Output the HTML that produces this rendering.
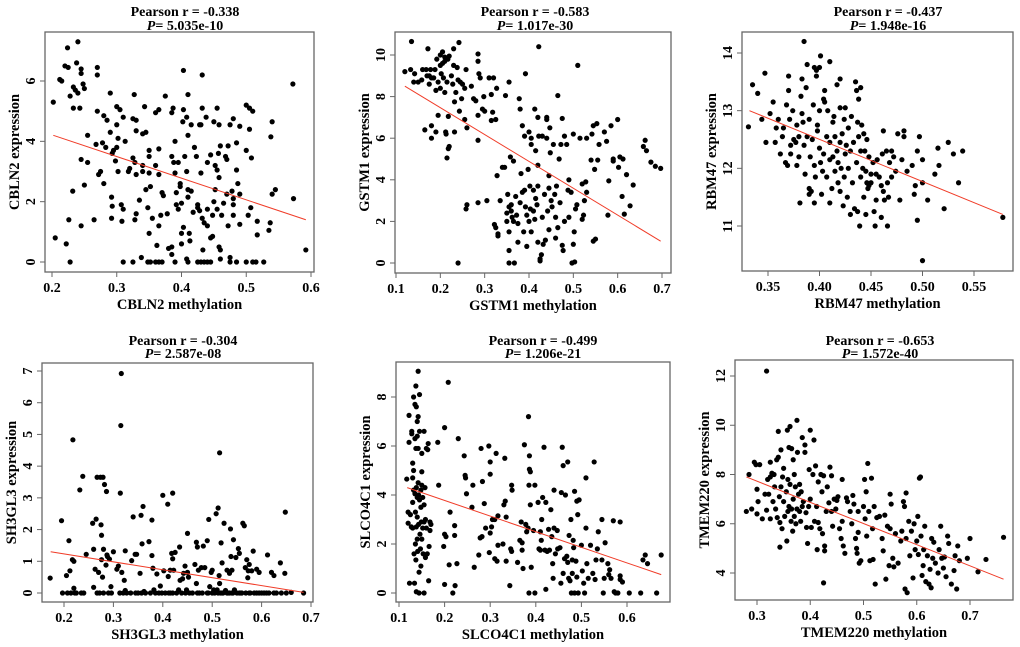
<!DOCTYPE html>
<html><head><meta charset="utf-8">
<style>
html,body{margin:0;padding:0;background:#fff;}
svg{display:block;font-family:"Liberation Serif",serif;font-weight:bold;}
</style></head>
<body>
<svg id="fig" width="1020" height="647" viewBox="0 0 1020 647" xmlns="http://www.w3.org/2000/svg"></svg>
<script>
// ---------- data ----------
const genes = ["CBLN2","GSTM1","RBM47","SH3GL3","SLCO4C1","TMEM220"];
const pearsonR = ["-0.338","-0.583","-0.437","-0.304","-0.499","-0.653"];
const pValues = ["5.035e-10","1.017e-30","1.948e-16","2.587e-08","1.206e-21","1.572e-40"];
const xTicks1 = [0.2,0.3,0.4,0.5,0.6];
const yTicks1 = [0,2,4,6];
const xTicks2 = [0.1,0.2,0.3,0.4,0.5,0.6,0.7];
const yTicks2 = [0,2,4,6,8,10];
const xTicks3 = [0.35,0.40,0.45,0.50,0.55];
const yTicks3 = [11,12,13,14];
const xTicks4 = [0.2,0.3,0.4,0.5,0.6,0.7];
const yTicks4 = [0,1,2,3,4,5,6,7];
const xTicks5 = [0.1,0.2,0.3,0.4,0.5,0.6];
const yTicks5 = [0,2,4,6,8];
const xTicks6 = [0.3,0.4,0.5,0.6,0.7];
const yTicks6 = [4,6,8,10,12];
const fit1 = [[0.202,4.2],[0.592,1.4]];
const fit2 = [[0.12,8.5],[0.697,1.05]];
const fit3 = [[0.332,13.0],[0.578,11.2]];
const fit4 = [[0.173,1.3],[0.685,0.02]];
const fit5 = [[0.118,4.3],[0.675,0.75]];
const fit6 = [[0.28,7.9],[0.763,3.75]];
const pts1 = [[0.202,5.3],[0.212,6.05],[0.215,6.0],[0.22,6.5],[0.225,6.45],[0.224,7.1],[0.24,7.3],[0.238,6.6],[0.245,6.4],[0.245,6.25],[0.233,5.8],[0.236,5.7],[0.24,5.6],[0.243,5.1],[0.233,5.1],[0.228,5.5],[0.248,5.9],[0.25,5.75],[0.27,6.45],[0.27,6.2],[0.255,4.2],[0.245,3.4],[0.255,3.3],[0.25,2.55],[0.232,2.35],[0.226,1.4],[0.245,1.2],[0.205,0.8],[0.222,0.6],[0.228,0],[0.265,1.4],[0.272,2.9],[0.275,3.0],[0.268,3.9],[0.27,5.0],[0.28,4.85],[0.29,5.6],[0.285,4.7],[0.28,2.6],[0.278,3.95],[0.283,3.8],[0.29,4.3],[0.295,3.7],[0.293,3.6],[0.298,3.35],[0.3,4.55],[0.3,5.15],[0.305,5.05],[0.302,4.1],[0.3,3.8],[0.302,3.0],[0.292,2.15],[0.293,1.85],[0.292,1.45],[0.307,1.9],[0.31,1.75],[0.308,1.35],[0.31,4.8],[0.313,4.0],[0.318,3.0],[0.32,3.1],[0.325,3.45],[0.327,5.55],[0.325,4.75],[0.33,4.7],[0.33,4.35],[0.328,3.3],[0.33,2.9],[0.33,1.6],[0.328,1.4],[0.31,0],[0.325,0],[0.338,0.15],[0.335,2.05],[0.34,3.2],[0.34,3.0],[0.345,2.4],[0.345,4.3],[0.34,4.25],[0.343,5.15],[0.35,3.7],[0.35,3.5],[0.35,2.95],[0.352,2.5],[0.348,1.8],[0.355,1.45],[0.35,0.95],[0.348,0],[0.352,0],[0.36,0],[0.365,0],[0.37,0],[0.36,4.95],[0.365,5.05],[0.365,3.75],[0.36,3.2],[0.365,2.9],[0.37,2.3],[0.368,1.55],[0.365,1.2],[0.362,0.55],[0.375,5.5],[0.372,2.2],[0.378,1.6],[0.38,0.45],[0.385,0.5],[0.385,0.25],[0.385,3.5],[0.388,3.3],[0.39,4.0],[0.387,5.1],[0.385,4.95],[0.39,2.95],[0.392,2.3],[0.392,1.9],[0.395,1.75],[0.395,3.3],[0.398,2.6],[0.398,2.5],[0.4,0.95],[0.4,0.6],[0.403,1.15],[0.4,1.95],[0.405,3.5],[0.402,4.65],[0.403,5.05],[0.403,6.35],[0.41,5.55],[0.408,4.8],[0.41,4.2],[0.408,3.0],[0.41,2.4],[0.41,2.15],[0.412,0.95],[0.413,0.7],[0.408,0.1],[0.41,0],[0.39,0],[0.415,4.55],[0.415,2.35],[0.418,1.65],[0.42,3.8],[0.423,3.5],[0.425,1.9],[0.425,1.8],[0.428,1.7],[0.428,4.55],[0.43,4.55],[0.432,5.1],[0.432,6.2],[0.43,2.95],[0.432,1.45],[0.435,1.3],[0.433,0.4],[0.425,0],[0.43,0],[0.435,0],[0.44,0],[0.445,0],[0.438,4.8],[0.44,3.3],[0.44,1.75],[0.44,1.2],[0.445,3.55],[0.445,0.8],[0.448,0.85],[0.448,1.55],[0.45,2.0],[0.452,2.4],[0.45,4.65],[0.452,3.2],[0.455,3.05],[0.455,1.75],[0.455,5.1],[0.458,4.55],[0.457,3.6],[0.458,2.8],[0.458,0.5],[0.46,0.4],[0.46,0.1],[0.46,3.85],[0.462,1.55],[0.465,1.95],[0.468,3.5],[0.47,3.4],[0.47,2.25],[0.472,3.85],[0.472,1.2],[0.475,0.15],[0.475,0],[0.475,4.55],[0.48,4.75],[0.478,2.35],[0.48,2.1],[0.48,1.9],[0.48,1.55],[0.485,3.95],[0.485,3.05],[0.487,2.6],[0.485,0],[0.49,4.5],[0.49,2.25],[0.49,1.25],[0.5,5.2],[0.5,3.7],[0.5,0],[0.503,1.55],[0.505,5.1],[0.507,1.8],[0.508,3.45],[0.51,5.0],[0.51,0],[0.505,4.4],[0.515,0],[0.517,1.35],[0.517,0.9],[0.527,0],[0.535,1.05],[0.537,1.3],[0.538,4.15],[0.54,4.65],[0.54,2.25],[0.545,2.4],[0.572,5.9],[0.573,2.1],[0.592,0.4]];
const pts2 = [[0.12,9.2],[0.135,10.65],[0.133,9.3],[0.14,8.7],[0.142,9.1],[0.15,8.7],[0.158,8.8],[0.16,9.3],[0.165,6.4],[0.168,9.3],[0.17,9.0],[0.172,10.3],[0.175,8.6],[0.175,9.0],[0.178,9.3],[0.18,8.9],[0.18,6.6],[0.18,6.0],[0.185,8.9],[0.188,9.3],[0.19,8.3],[0.19,6.3],[0.192,9.8],[0.195,7.1],[0.195,8.7],[0.2,10.0],[0.2,9.5],[0.2,8.4],[0.202,9.1],[0.205,10.15],[0.205,9.6],[0.207,8.9],[0.21,9.9],[0.21,9.7],[0.21,8.2],[0.212,6.3],[0.213,6.2],[0.215,8.7],[0.217,9.8],[0.218,7.05],[0.215,5.05],[0.218,5.5],[0.22,5.6],[0.22,9.95],[0.225,9.0],[0.228,8.6],[0.23,10.3],[0.23,9.5],[0.232,7.75],[0.232,6.3],[0.235,8.2],[0.238,9.4],[0.24,8.8],[0.242,10.6],[0.243,7.3],[0.245,8.7],[0.248,7.9],[0.25,8.6],[0.255,8.4],[0.255,6.9],[0.258,9.3],[0.26,6.5],[0.258,2.6],[0.26,2.8],[0.24,0],[0.27,8.5],[0.275,7.9],[0.28,7.8],[0.285,10.05],[0.285,9.7],[0.287,9.1],[0.285,7.1],[0.285,5.9],[0.285,2.9],[0.29,8.9],[0.295,7.4],[0.298,8.0],[0.3,7.3],[0.305,3.0],[0.31,8.9],[0.315,8.1],[0.315,6.85],[0.318,7.25],[0.32,8.9],[0.322,1.85],[0.325,1.7],[0.325,6.9],[0.327,8.4],[0.328,4.2],[0.33,1.4],[0.33,1.3],[0.335,3.0],[0.34,4.6],[0.345,4.6],[0.347,8.05],[0.35,2.4],[0.35,2.0],[0.352,3.3],[0.355,2.7],[0.355,1.5],[0.355,0.6],[0.355,0],[0.355,8.7],[0.358,5.1],[0.36,2.5],[0.36,2.8],[0.362,2.2],[0.365,4.9],[0.365,2.0],[0.367,0],[0.37,3.2],[0.372,2.3],[0.375,1.9],[0.375,1.0],[0.378,7.9],[0.38,2.9],[0.38,7.4],[0.382,4.3],[0.385,6.6],[0.385,3.4],[0.388,1.5],[0.39,6.1],[0.39,3.5],[0.392,9.1],[0.392,2.7],[0.395,2.3],[0.395,0.8],[0.398,4.5],[0.4,6.3],[0.4,2.0],[0.402,3.7],[0.403,2.6],[0.405,6.0],[0.405,5.7],[0.405,1.5],[0.41,2.5],[0.41,3.5],[0.413,2.1],[0.413,7.4],[0.415,5.4],[0.415,3.1],[0.418,2.8],[0.42,7.0],[0.42,1.0],[0.42,4.7],[0.42,3.7],[0.422,10.4],[0.422,6.1],[0.425,0.1],[0.425,0.2],[0.428,0.4],[0.43,6.1],[0.43,2.2],[0.432,0.9],[0.435,3.3],[0.437,1.1],[0.44,7.0],[0.44,6.9],[0.44,6.0],[0.442,2.5],[0.445,4.2],[0.445,3.6],[0.445,1.6],[0.447,6.5],[0.448,5.3],[0.45,3.0],[0.452,2.7],[0.455,5.7],[0.458,3.3],[0.46,2.2],[0.46,1.2],[0.462,3.7],[0.465,8.05],[0.465,1.7],[0.468,5.0],[0.47,2.9],[0.472,5.7],[0.475,6.95],[0.477,0.6],[0.475,0.85],[0.48,6.1],[0.48,2.0],[0.485,5.7],[0.488,3.5],[0.49,4.0],[0.49,2.2],[0.495,3.4],[0.497,0],[0.5,6.2],[0.5,0.9],[0.502,1.5],[0.503,0.05],[0.505,2.6],[0.508,2.8],[0.51,9.5],[0.515,6.0],[0.52,3.8],[0.52,2.1],[0.523,2.3],[0.525,3.0],[0.528,3.9],[0.53,3.4],[0.53,6.0],[0.54,4.95],[0.542,6.2],[0.545,6.6],[0.545,1.05],[0.548,4.5],[0.55,1.15],[0.553,6.7],[0.555,4.95],[0.558,5.7],[0.57,6.3],[0.575,5.85],[0.578,2.3],[0.58,3.95],[0.585,6.6],[0.59,5.0],[0.59,4.9],[0.6,6.9],[0.602,4.6],[0.605,5.1],[0.61,3.2],[0.612,5.0],[0.615,2.35],[0.62,4.25],[0.628,2.75],[0.635,3.75],[0.658,5.6],[0.662,5.9],[0.665,5.4],[0.675,4.85],[0.685,4.65],[0.697,4.55]];
const pts3 = [[0.331,12.72],[0.335,13.45],[0.34,13.3],[0.344,12.85],[0.347,13.65],[0.348,12.45],[0.352,12.95],[0.355,13.15],[0.357,12.45],[0.358,12.7],[0.36,12.85],[0.362,12.25],[0.364,12.55],[0.365,12.7],[0.367,12.1],[0.368,13.1],[0.369,12.05],[0.37,13.35],[0.37,13.6],[0.371,12.85],[0.372,12.25],[0.372,12.4],[0.374,13.0],[0.375,12.5],[0.377,12.45],[0.378,12.05],[0.378,12.75],[0.38,12.2],[0.38,12.55],[0.381,11.4],[0.382,13.25],[0.383,13.55],[0.383,12.95],[0.384,12.8],[0.385,14.2],[0.385,12.4],[0.386,11.9],[0.387,13.4],[0.388,13.8],[0.388,12.55],[0.39,11.65],[0.39,11.55],[0.39,12.85],[0.391,12.2],[0.392,11.6],[0.393,12.5],[0.394,13.1],[0.395,13.75],[0.395,12.05],[0.395,11.4],[0.396,11.85],[0.397,13.6],[0.397,13.7],[0.398,12.75],[0.398,12.65],[0.4,13.75],[0.4,13.0],[0.4,12.35],[0.401,13.95],[0.401,12.1],[0.402,11.55],[0.403,11.95],[0.404,12.25],[0.404,13.2],[0.405,13.35],[0.405,13.15],[0.407,12.55],[0.407,11.85],[0.408,13.0],[0.41,13.85],[0.41,12.45],[0.41,11.4],[0.41,12.15],[0.412,11.65],[0.413,12.8],[0.413,12.2],[0.414,12.9],[0.415,12.55],[0.415,11.95],[0.417,13.45],[0.417,12.3],[0.418,11.75],[0.418,12.1],[0.42,13.55],[0.42,13.05],[0.42,12.45],[0.42,11.6],[0.421,12.0],[0.422,12.6],[0.423,11.35],[0.424,12.85],[0.424,11.85],[0.425,12.25],[0.425,13.05],[0.426,12.4],[0.427,11.5],[0.428,12.7],[0.428,12.0],[0.43,11.2],[0.43,12.3],[0.431,12.9],[0.432,11.75],[0.433,12.45],[0.434,11.3],[0.435,13.5],[0.436,13.35],[0.436,12.1],[0.437,12.8],[0.437,11.25],[0.438,13.2],[0.438,12.55],[0.439,11.0],[0.44,13.4],[0.44,12.3],[0.44,11.85],[0.441,12.75],[0.442,12.0],[0.443,12.6],[0.443,11.5],[0.444,12.3],[0.445,11.95],[0.445,11.2],[0.446,12.5],[0.446,11.75],[0.447,11.65],[0.448,12.2],[0.448,11.7],[0.45,11.9],[0.45,11.75],[0.452,12.1],[0.453,11.25],[0.454,11.0],[0.455,11.45],[0.455,11.9],[0.456,12.15],[0.458,11.85],[0.46,11.7],[0.46,11.15],[0.461,12.25],[0.462,12.65],[0.462,11.6],[0.463,11.45],[0.465,12.3],[0.466,11.75],[0.466,11.0],[0.467,11.5],[0.468,12.1],[0.47,12.3],[0.47,11.85],[0.472,12.2],[0.474,11.95],[0.476,12.6],[0.478,11.45],[0.48,12.15],[0.482,12.65],[0.482,12.55],[0.485,11.95],[0.49,12.05],[0.492,11.55],[0.493,11.7],[0.495,12.3],[0.495,11.1],[0.497,12.55],[0.5,12.15],[0.5,11.75],[0.5,10.4],[0.505,11.45],[0.512,11.9],[0.515,12.35],[0.516,12.05],[0.521,11.3],[0.525,12.45],[0.53,12.25],[0.535,11.75],[0.539,12.3],[0.578,11.15]];
const pts4 = [[0.172,0.47],[0.195,2.28],[0.197,0],[0.205,0.55],[0.207,0],[0.21,1.65],[0.212,0.7],[0.214,0],[0.217,1.05],[0.218,4.83],[0.22,1.0],[0.22,0.15],[0.222,0],[0.225,0],[0.232,3.25],[0.235,0],[0.238,3.68],[0.24,0],[0.245,1.22],[0.258,2.2],[0.26,1.38],[0.26,0.18],[0.263,0.75],[0.265,2.33],[0.267,3.65],[0.267,0],[0.27,0.65],[0.272,0],[0.274,3.65],[0.275,2.15],[0.276,1.82],[0.276,1.05],[0.278,0.5],[0.279,3.65],[0.28,1.38],[0.28,0],[0.282,3.42],[0.285,0.88],[0.286,3.2],[0.287,1.2],[0.288,1.15],[0.29,0],[0.292,1.07],[0.295,0.2],[0.296,0],[0.3,1.3],[0.307,0.75],[0.31,0.85],[0.313,0],[0.314,3.15],[0.315,5.28],[0.316,6.92],[0.317,0.65],[0.32,0],[0.322,0.4],[0.324,1.33],[0.324,0.08],[0.327,0],[0.335,0],[0.337,1.02],[0.34,2.4],[0.344,1.22],[0.347,1.22],[0.354,0.62],[0.356,2.45],[0.357,0],[0.358,1.55],[0.36,2.73],[0.362,0.05],[0.365,0],[0.372,1.62],[0.375,0],[0.378,2.3],[0.378,1.18],[0.38,0.78],[0.382,0.1],[0.385,0],[0.388,0.6],[0.395,0.22],[0.398,0],[0.4,3.08],[0.402,0.7],[0.41,2.8],[0.411,0.52],[0.412,0],[0.415,0.72],[0.418,1.25],[0.42,3.15],[0.42,1.08],[0.422,0.72],[0.425,1.28],[0.428,0],[0.432,0.1],[0.434,1.45],[0.435,0.4],[0.438,0],[0.44,0.45],[0.442,0.62],[0.445,0.85],[0.446,0],[0.448,0.1],[0.45,1.88],[0.45,0.65],[0.452,0.5],[0.454,0],[0.46,0],[0.465,0.9],[0.468,1.6],[0.468,0.3],[0.47,1.45],[0.472,0.72],[0.474,0],[0.478,0.8],[0.48,0],[0.482,1.48],[0.485,0.8],[0.49,1.65],[0.492,0],[0.493,2.32],[0.495,0.2],[0.498,0.65],[0.5,0.72],[0.5,0],[0.503,0.1],[0.505,0],[0.508,2.5],[0.51,0.1],[0.512,0],[0.512,2.68],[0.514,0.55],[0.515,4.42],[0.515,0.3],[0.517,0],[0.518,1.58],[0.52,0.95],[0.522,0],[0.524,2.2],[0.527,0.08],[0.53,0.72],[0.532,0],[0.535,0.62],[0.537,2.02],[0.538,1.15],[0.54,0.72],[0.542,0],[0.543,1.68],[0.545,0.1],[0.548,1.12],[0.55,0],[0.553,1.4],[0.555,1.25],[0.558,0],[0.562,2.2],[0.565,2.12],[0.567,0.8],[0.568,0],[0.57,1.05],[0.572,0.48],[0.573,0.7],[0.575,0.9],[0.577,0],[0.58,0.7],[0.583,1.32],[0.585,0],[0.59,0.75],[0.595,0.65],[0.6,0],[0.61,0],[0.612,1.2],[0.62,0.65],[0.625,0.55],[0.625,0],[0.638,0.95],[0.64,0],[0.647,0.62],[0.648,2.55],[0.65,0],[0.66,0.02],[0.685,0],[0.47,0],[0.49,0],[0.52,0],[0.53,0],[0.535,0],[0.54,0],[0.555,0],[0.56,0],[0.575,0],[0.59,0],[0.595,0],[0.605,0],[0.615,0],[0.63,0],[0.415,0],[0.42,0],[0.405,0],[0.392,0],[0.35,0],[0.345,0]];
const pts5 = [[0.117,4.65],[0.12,3.3],[0.12,2.85],[0.122,7.25],[0.122,6.15],[0.123,0.4],[0.125,3.2],[0.127,2.7],[0.128,6.5],[0.128,6.6],[0.13,5.3],[0.13,4.7],[0.13,3.7],[0.13,2.65],[0.132,8.0],[0.132,5.0],[0.132,4.2],[0.133,1.6],[0.134,0.4],[0.135,7.7],[0.135,6.3],[0.135,4.05],[0.136,3.3],[0.136,2.0],[0.137,8.45],[0.137,5.9],[0.137,1.35],[0.138,7.6],[0.138,4.3],[0.138,2.7],[0.138,0.05],[0.14,7.0],[0.14,6.4],[0.14,3.9],[0.14,3.1],[0.14,2.2],[0.141,1.7],[0.142,9.05],[0.142,7.2],[0.142,5.9],[0.142,4.5],[0.143,4.0],[0.143,2.8],[0.144,0.85],[0.144,0],[0.145,8.1],[0.145,6.6],[0.145,3.8],[0.146,2.4],[0.147,1.8],[0.148,4.2],[0.148,3.5],[0.148,1.1],[0.149,2.9],[0.15,5.7],[0.15,4.95],[0.15,4.4],[0.15,2.2],[0.152,3.9],[0.152,2.65],[0.153,1.6],[0.155,6.6],[0.155,3.6],[0.155,2.9],[0.155,0],[0.157,4.3],[0.158,3.0],[0.158,1.45],[0.16,5.9],[0.16,2.65],[0.162,1.6],[0.163,5.85],[0.164,6.1],[0.165,0.5],[0.166,1.9],[0.168,2.9],[0.168,2.55],[0.17,2.8],[0.185,6.15],[0.187,4.4],[0.198,1.9],[0.2,6.75],[0.2,2.4],[0.2,0.35],[0.203,2.3],[0.208,8.6],[0.21,1.15],[0.212,3.3],[0.218,0],[0.222,2.75],[0.222,2.35],[0.223,0.3],[0.227,1.2],[0.23,6.3],[0.243,5.6],[0.245,4.8],[0.246,4.7],[0.248,4.05],[0.26,3.5],[0.262,4.4],[0.265,1.05],[0.275,1.55],[0.278,2.25],[0.28,5.9],[0.282,2.3],[0.283,4.55],[0.287,3.65],[0.29,2.65],[0.297,6.0],[0.298,1.65],[0.3,5.35],[0.3,4.85],[0.3,2.45],[0.303,2.7],[0.305,3.0],[0.31,3.0],[0.31,1.4],[0.313,5.7],[0.315,1.3],[0.317,3.15],[0.317,1.95],[0.328,2.0],[0.33,3.6],[0.332,5.5],[0.333,3.75],[0.335,3.1],[0.335,1.3],[0.343,0.3],[0.345,1.8],[0.347,4.4],[0.347,1.7],[0.348,4.2],[0.36,1.25],[0.365,2.15],[0.368,2.9],[0.37,1.75],[0.37,2.05],[0.372,1.0],[0.375,6.05],[0.378,2.8],[0.38,2.5],[0.383,2.65],[0.384,7.2],[0.385,0],[0.385,4.4],[0.386,5.6],[0.386,5.05],[0.388,3.6],[0.388,4.95],[0.39,1.05],[0.395,2.55],[0.398,0],[0.398,4.4],[0.405,3.7],[0.407,1.8],[0.41,2.5],[0.41,1.75],[0.412,2.15],[0.413,3.0],[0.415,3.9],[0.418,5.95],[0.42,1.75],[0.422,0.15],[0.422,3.7],[0.425,1.7],[0.428,2.6],[0.43,1.75],[0.433,3.4],[0.435,2.3],[0.437,1.2],[0.438,0.6],[0.44,4.2],[0.44,2.65],[0.443,1.6],[0.447,2.55],[0.448,1.8],[0.453,1.85],[0.455,0.4],[0.456,4.1],[0.458,5.95],[0.46,5.2],[0.46,0.8],[0.463,1.4],[0.465,4.0],[0.468,1.5],[0.47,5.35],[0.47,1.25],[0.472,0.6],[0.473,2.35],[0.475,0.5],[0.477,3.0],[0.478,0],[0.48,1.35],[0.48,0.8],[0.482,2.15],[0.483,1.85],[0.485,4.15],[0.485,0],[0.488,1.3],[0.49,0.65],[0.49,3.75],[0.492,3.2],[0.493,0],[0.495,3.8],[0.5,1.95],[0.502,0.9],[0.505,0.4],[0.507,0],[0.51,4.7],[0.51,2.65],[0.512,1.2],[0.515,0.6],[0.52,1.95],[0.525,0.8],[0.528,5.35],[0.53,0.55],[0.532,1.35],[0.535,1.8],[0.537,2.5],[0.545,3.0],[0.545,1.35],[0.548,0],[0.55,0.6],[0.552,2.05],[0.558,1.2],[0.56,0.75],[0.562,0.95],[0.565,0.6],[0.57,2.95],[0.572,0.05],[0.575,0],[0.58,0],[0.585,2.9],[0.585,0.55],[0.585,0.7],[0.59,0.45],[0.605,0],[0.63,0],[0.635,1.35],[0.64,1.55],[0.645,1.2],[0.665,0],[0.675,1.55]];
const pts6 = [[0.28,6.5],[0.285,8.0],[0.29,6.6],[0.295,8.5],[0.298,8.4],[0.3,7.4],[0.3,6.4],[0.302,6.9],[0.305,8.4],[0.31,6.2],[0.315,7.2],[0.318,6.55],[0.318,12.2],[0.32,7.8],[0.322,7.2],[0.325,8.5],[0.325,7.9],[0.325,6.2],[0.328,8.05],[0.33,6.9],[0.332,8.0],[0.333,7.5],[0.335,6.6],[0.337,8.6],[0.338,6.25],[0.34,9.75],[0.34,8.7],[0.342,7.1],[0.343,6.05],[0.343,5.05],[0.345,9.0],[0.345,7.5],[0.347,5.8],[0.348,7.9],[0.35,8.25],[0.35,6.9],[0.352,6.3],[0.355,7.3],[0.356,5.3],[0.357,9.8],[0.358,7.8],[0.358,6.5],[0.36,9.1],[0.36,6.7],[0.362,9.95],[0.362,7.6],[0.364,6.1],[0.365,9.05],[0.365,6.6],[0.367,5.7],[0.368,8.6],[0.368,7.0],[0.37,8.0],[0.37,6.3],[0.372,7.5],[0.373,6.0],[0.375,10.2],[0.375,6.6],[0.376,8.9],[0.378,7.2],[0.38,6.5],[0.38,7.6],[0.382,6.1],[0.383,7.3],[0.385,9.5],[0.385,6.7],[0.387,6.9],[0.39,8.9],[0.39,9.2],[0.392,6.45],[0.393,5.85],[0.395,5.2],[0.397,6.7],[0.398,8.2],[0.4,9.8],[0.4,7.0],[0.402,5.85],[0.405,8.0],[0.407,9.4],[0.408,6.1],[0.41,8.35],[0.412,6.7],[0.413,4.95],[0.415,7.7],[0.415,6.05],[0.418,5.8],[0.42,8.0],[0.422,7.3],[0.423,5.6],[0.425,7.95],[0.425,3.6],[0.427,5.1],[0.427,4.9],[0.43,6.5],[0.432,7.5],[0.435,6.85],[0.437,8.3],[0.44,7.95],[0.44,6.5],[0.442,5.9],[0.445,7.0],[0.448,6.6],[0.45,6.95],[0.452,7.1],[0.455,5.8],[0.458,5.4],[0.46,7.8],[0.46,6.1],[0.462,5.1],[0.465,4.8],[0.468,7.05],[0.47,6.9],[0.475,6.5],[0.478,6.0],[0.48,7.15],[0.482,6.8],[0.485,5.4],[0.487,5.0],[0.488,4.8],[0.49,6.5],[0.49,5.65],[0.492,4.4],[0.495,4.5],[0.5,6.7],[0.502,7.8],[0.503,6.2],[0.505,7.3],[0.506,5.5],[0.508,8.45],[0.51,6.5],[0.512,4.5],[0.515,7.85],[0.517,5.8],[0.518,4.55],[0.52,6.7],[0.522,3.55],[0.525,6.25],[0.53,6.3],[0.535,5.4],[0.537,4.9],[0.54,6.35],[0.542,3.75],[0.545,5.9],[0.548,4.3],[0.55,7.2],[0.55,5.8],[0.552,6.8],[0.555,4.6],[0.557,4.25],[0.56,5.6],[0.565,4.4],[0.57,5.3],[0.572,5.7],[0.575,6.9],[0.577,6.7],[0.578,3.35],[0.58,7.25],[0.58,5.4],[0.582,3.2],[0.585,6.1],[0.587,4.7],[0.59,5.7],[0.593,3.8],[0.595,6.0],[0.597,4.95],[0.6,5.3],[0.602,6.3],[0.603,4.75],[0.605,7.85],[0.607,7.9],[0.608,5.5],[0.61,3.9],[0.612,4.3],[0.613,4.95],[0.615,5.9],[0.617,3.65],[0.62,4.7],[0.623,3.55],[0.625,4.15],[0.627,3.4],[0.628,5.4],[0.63,4.6],[0.632,5.25],[0.635,4.4],[0.64,4.0],[0.642,4.95],[0.645,5.9],[0.647,4.6],[0.65,4.2],[0.652,4.65],[0.655,3.85],[0.658,5.5],[0.66,5.2],[0.665,3.55],[0.67,4.1],[0.672,4.7],[0.675,3.35],[0.677,5.1],[0.68,4.5],[0.695,4.6],[0.7,5.4],[0.715,4.05],[0.73,4.55],[0.763,5.45]];

// ---------- layout (pixel geometry, not data) ----------
const layout = [
 {L:45,R:314,T:32,B:272, xa:[0.2,52],xb:[0.6,311], ya:[0,262],yb:[6,81], tcx:185, row:0},
 {L:395,R:671,T:32,B:273, xa:[0.1,396],xb:[0.7,662], ya:[0,263],yb:[10,55], tcx:535, row:0},
 {L:742,R:1013,T:32,B:271, xa:[0.35,768],xb:[0.55,974], ya:[11,226],yb:[14,53], tcx:888, row:0},
 {L:42,R:313,T:363,B:602, xa:[0.2,64],xb:[0.7,311], ya:[0,593],yb:[7,371], tcx:183, row:1},
 {L:396,R:670,T:362,B:602, xa:[0.1,399],xb:[0.6,627], ya:[0,593],yb:[8,397], tcx:543, row:1},
 {L:735,R:1013,T:360,B:600, xa:[0.3,757],xb:[0.7,970], ya:[4,573],yb:[12,376], tcx:880, row:1}
];
const xTickSets=[xTicks1,xTicks2,xTicks3,xTicks4,xTicks5,xTicks6];
const yTickSets=[yTicks1,yTicks2,yTicks3,yTicks4,yTicks5,yTicks6];
const fits=[fit1,fit2,fit3,fit4,fit5,fit6];
const ptSets=[pts1,pts2,pts3,pts4,pts5,pts6];
const xDec=[1,1,2,1,1,1];

const NS="http://www.w3.org/2000/svg";
const svg=document.getElementById('fig');
function mk(tag,attrs,parent){const e=document.createElementNS(NS,tag);for(const k in attrs)e.setAttribute(k,attrs[k]);parent.appendChild(e);return e;}

layout.forEach((g,i)=>{
  const sx=v=>g.xa[1]+(v-g.xa[0])*(g.xb[1]-g.xa[1])/(g.xb[0]-g.xa[0]);
  const sy=v=>g.ya[1]+(v-g.ya[0])*(g.yb[1]-g.ya[1])/(g.yb[0]-g.ya[0]);
  const grp=mk('g',{},svg);
  
  
  const tY = g.row===0 ? [16,30] : [345,358];
  const t1=mk('text',{x:g.tcx,y:tY[0],'text-anchor':'middle','font-size':'14'},grp);
  t1.textContent='Pearson r = '+pearsonR[i];
  
  
  const t2=mk('text',{x:g.tcx,y:tY[1],'text-anchor':'middle','font-size':'14'},grp);
  t2.innerHTML='<tspan font-style="italic">P</tspan>= '+pValues[i];
  
  
  const fr=mk('rect',{x:g.L,y:g.T,width:g.R-g.L,height:g.B-g.T,fill:'none',stroke:'#666','stroke-width':'1.3'},grp);
  
  
  const xt=xTickSets[i];
  const xAxis=mk('g',{},grp);
  
  
  xt.forEach(v=>{
    mk('line',{x1:sx(v),x2:sx(v),y1:g.B,y2:g.B+5,stroke:'#666'},xAxis);
    const tl=mk('text',{x:sx(v),y:g.B+20,'text-anchor':'middle','font-size':'14'},xAxis);
    tl.textContent=v.toFixed(xDec[i]);
    
    
  });
  const xl=mk('text',{x:(g.L+g.R)/2,y:g.B+37,'text-anchor':'middle','font-size':'14.5'},grp);
  xl.textContent=genes[i]+' methylation';
  
  
  const yt=yTickSets[i];
  const yAxis=mk('g',{},grp);
  
  
  yt.forEach(v=>{
    mk('line',{x1:g.L-5,x2:g.L,y1:sy(v),y2:sy(v),stroke:'#666'},yAxis);
    const cx=g.L-10, cy=sy(v);
    const tl=mk('text',{x:cx,y:cy,'text-anchor':'middle','font-size':'14',transform:'rotate(-90 '+cx+' '+cy+')'},yAxis);
    tl.textContent=String(v);
    
    
  });
  const lx=g.L-26, ly=(g.T+g.B)/2;
  const yl=mk('text',{x:lx,y:ly,'text-anchor':'middle','font-size':'14.5',transform:'rotate(-90 '+lx+' '+ly+')'},grp);
  yl.textContent=genes[i]+' expression';
  
  
  const pg=mk('g',{fill:'#000'},grp);
  
  
  ptSets[i].forEach(p=>{
    const c=mk('circle',{cx:sx(p[0]),cy:sy(p[1]),r:2.6},pg);
    
    
  });
  const f=fits[i];
  const ln=mk('line',{x1:sx(f[0][0]),y1:sy(f[0][1]),x2:sx(f[1][0]),y2:sy(f[1][1]),stroke:'#f03c28','stroke-width':'1'},grp);
  
  
});
</script>
</body></html>
